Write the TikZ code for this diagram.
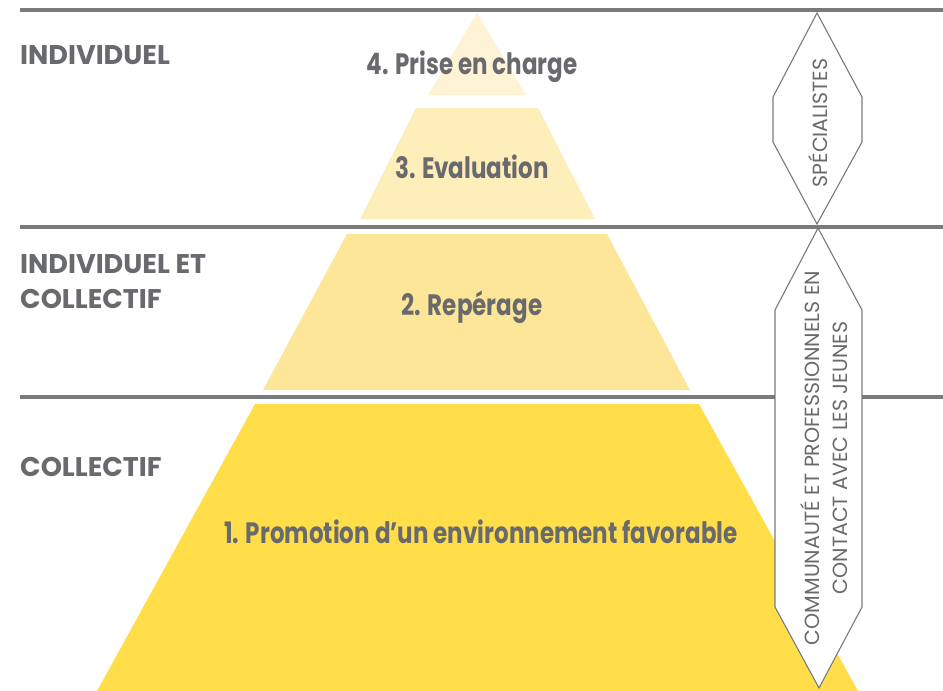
\documentclass[tikz,border=0pt]{standalone}
\usepackage{fontspec}
\setmainfont{Poppins}
\newfontfamily\narrowfont{Poppins}[FakeStretch=0.78]
\definecolor{txt}{RGB}{105,106,110}
\definecolor{rulec}{RGB}{122,122,125}
\definecolor{yA}{RGB}{255,222,74}
\definecolor{yB}{RGB}{254,230,153}
\definecolor{yC}{RGB}{254,238,186}
\definecolor{yD}{RGB}{254,243,212}
\tikzset{
  rulestyle/.style={draw=rulec, line width=3.5pt},
  hexstyle/.style={draw=rulec, line width=1.1pt, fill=white, line join=miter},
  sidelabel/.style={anchor=base west, inner sep=0pt, text=txt, font=\bfseries\fontsize{27}{35}\selectfont, align=left},
  layerlabel/.style={anchor=base, inner sep=0pt, text=txt, font=\narrowfont\bfseries\fontsize{29.5}{34}\selectfont},
  hexlabel/.style={rotate=90, inner sep=0pt, text=txt, font=\fontsize{20.5}{28}\selectfont, align=center}
}
\begin{document}
\begin{tikzpicture}[x=1pt,y=-1pt]
\useasboundingbox (0,0) rectangle (943,691);
\fill[white] (0,0) rectangle (943,691);

% pyramid layers
\fill[yD] (477,13) -- (526,95) -- (428,95) -- cycle;
\fill[yC] (416,108) -- (538,108) -- (595,219) -- (360,219) -- cycle;
\fill[yB] (347,234) -- (607,234) -- (690,390) -- (263,390) -- cycle;
\fill[yA] (255,404) -- (699,404) -- (858,691) -- (97,691) -- cycle;

% rules
\coordinate (r1a) at (20,10);  \coordinate (r1b) at (943,10);
\coordinate (r2a) at (20,227); \coordinate (r2b) at (943,227);
\coordinate (r3a) at (20,397); \coordinate (r3b) at (943,397);
\draw[rulestyle] (r1a) -- (r1b);
\draw[rulestyle] (r2a) -- (r2b);
\draw[rulestyle] (r3a) -- (r3b);

% hexagons
\draw[hexstyle] (817,13) -- (862,97) -- (862,142) -- (817,224) -- (773,142) -- (773,97) -- cycle;
\draw[hexstyle] (818,228) -- (862,310) -- (862,607) -- (819,688) -- (775,607) -- (775,310) -- cycle;

% side labels
\node[sidelabel] (ind) at (20,64) {INDIVIDUEL};
\node[sidelabel] (indcol) at (20,308) {INDIVIDUEL ET\\COLLECTIF};
\node[sidelabel] (col) at (20,476) {COLLECTIF};

% layer labels
\node[layerlabel] (l4) at (472,74) {4. Prise en charge};
\node[layerlabel] (l3) at (472,178) {3. Evaluation};
\node[layerlabel] (l2) at (472,315) {2. Repérage};
\node[layerlabel] (l1) at (481,543) {1. Promotion d’un environnement favorable};

% hexagon labels
\node[hexlabel] (spe) at (818,123) {SPÉCIALISTES};
\node[hexlabel] (com) at (824,458) {COMMUNAUTÉ ET PROFESSIONNELS EN\\CONTACT AVEC LES JEUNES};
\end{tikzpicture}
\end{document}
